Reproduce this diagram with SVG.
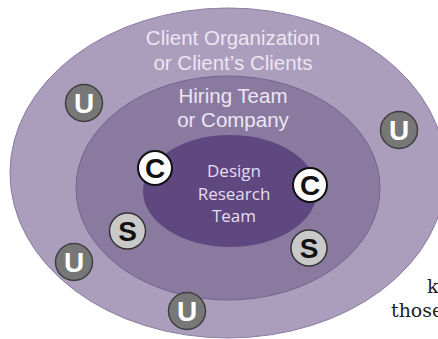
<svg xmlns="http://www.w3.org/2000/svg" width="438" height="339" viewBox="0 0 438 339">
<defs>
<style>
.lbl{font-family:"Liberation Sans",Arial,sans-serif;font-size:20.5px;fill:#ece6f3;text-anchor:middle}
.drt{font-family:"Open Sans","Noto Sans",sans-serif;font-size:17px;fill:#e6deef;text-anchor:middle}
.ltr{font-family:"Liberation Sans",Arial,sans-serif;font-size:28px;font-weight:bold;text-anchor:middle}
.u circle{fill:#777777;stroke:#3f3f3f;stroke-width:1.5}
.u text{fill:#ffffff}
.s circle{fill:#c9c9c9;stroke:#333333;stroke-width:1.5}
.s text{fill:#111111}
.c circle{fill:#ffffff;stroke:#111111;stroke-width:2}
.c text{fill:#111111}
.ser{font-family:"DejaVu Serif","Liberation Serif",serif;font-size:19px;fill:#222222}
</style>
</defs>
<rect width="438" height="339" fill="#ffffff"/>
<g id="client-org">
<ellipse cx="228" cy="173" rx="218" ry="165" fill="#ab9dbc" stroke="#8c7ca3" stroke-width="1"/>
<text class="lbl" x="233" y="45">Client Organization</text>
<text class="lbl" x="233" y="70">or Client’s Clients</text>
</g>
<g id="hiring-team">
<ellipse cx="228" cy="188" rx="152" ry="112" fill="#8b7aa0" stroke="#75638f" stroke-width="1"/>
<text class="lbl" x="233" y="103">Hiring Team</text>
<text class="lbl" x="233" y="127">or Company</text>
</g>
<g id="design-research-team">
<ellipse cx="230" cy="191" rx="87" ry="56" fill="#5f4780"/>
<text class="drt" x="234" y="177">Design</text>
<text class="drt" x="234" y="200">Research</text>
<text class="drt" x="234" y="222">Team</text>
</g>
<g id="u1" class="u"><circle cx="84" cy="103" r="18.5"/><text class="ltr" x="84" y="113">U</text></g>
<g id="u2" class="u"><circle cx="399" cy="130" r="18.5"/><text class="ltr" x="399" y="140">U</text></g>
<g id="u3" class="u"><circle cx="74" cy="262" r="18.5"/><text class="ltr" x="74" y="272">U</text></g>
<g id="u4" class="u"><circle cx="187" cy="311" r="18.5"/><text class="ltr" x="187" y="321">U</text></g>
<g id="s1" class="s"><circle cx="127.5" cy="231" r="18"/><text class="ltr" x="127.5" y="241">S</text></g>
<g id="s2" class="s"><circle cx="309" cy="248" r="18"/><text class="ltr" x="309" y="258">S</text></g>
<g id="c1" class="c"><circle cx="155" cy="168" r="17"/><text class="ltr" x="155" y="178">C</text></g>
<g id="c2" class="c"><circle cx="310" cy="185" r="17"/><text class="ltr" x="310" y="195">C</text></g>
<g id="connectors"></g>
<text class="ser" x="427" y="293">k</text>
<text class="ser" x="391" y="317">those</text>
</svg>
